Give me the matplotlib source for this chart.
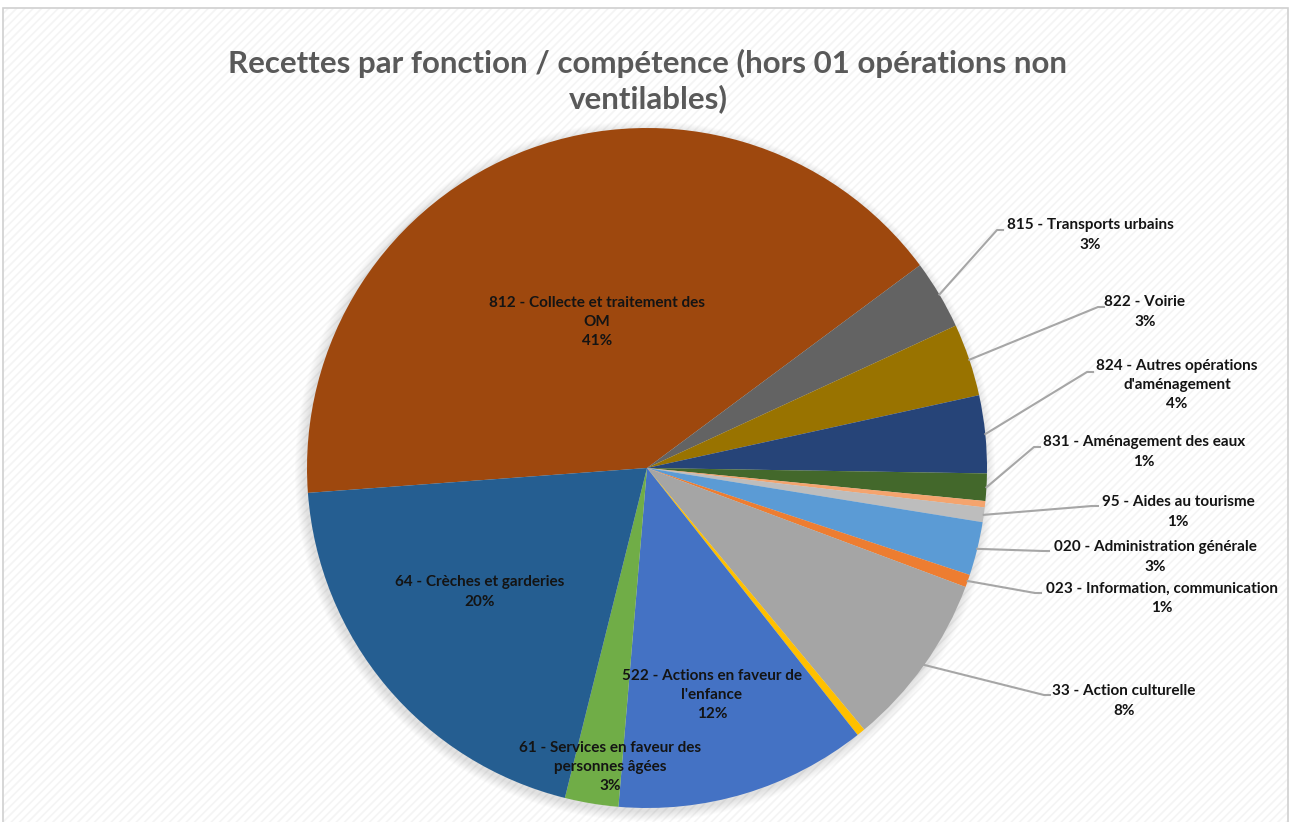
import matplotlib.pyplot as plt
import numpy as np
from matplotlib.patches import Rectangle, Circle

# slices listed clockwise, starting with 812
labels = ["812 - Collecte et traitement des\nOM", "815 - Transports urbains", "822 - Voirie",
          "824 - Autres opérations\nd'aménagement", "831 - Aménagement des eaux", "",
          "95 - Aides au tourisme", "020 - Administration générale",
          "023 - Information, communication", "33 - Action culturelle", "",
          "522 - Actions en faveur de\nl'enfance", "61 - Services en faveur des\npersonnes âgées",
          "64 - Crèches et garderies"]
shares = [41.1, 3.3, 3.45, 3.7, 1.3, 0.3, 0.7, 2.55, 0.6, 8.3, 0.4, 12.0, 2.55, 20.0]
colors = ["#9E480E", "#636363", "#997300", "#264478", "#43682B", "#F4A46E", "#BDBDBD",
          "#5B9BD5", "#ED7D31", "#A5A5A5", "#FFC000", "#4472C4", "#70AD47", "#255E91"]

# label layout (pixel coords, y from top): text block centre, leader end
inside = {0: (597, 322), 11: (712, 695), 12: (610, 767), 13: (480, 592)}
outside = {1: (1090, 235, 1003, 230), 2: (1145, 312, 1104, 307), 3: (1177, 385, 1093, 372),
           4: (1144, 452, 1040, 447), 6: (1178, 512, 1098, 506), 7: (1155, 557, 1049, 551),
           8: (1162, 598, 1041, 593), 9: (1124, 701, 1050, 695)}

W, H = 1293, 822
fig = plt.figure(figsize=(12.93, 8.22), dpi=100)
ax = fig.add_axes([0, 0, 1, 1])

plt.rcParams["hatch.linewidth"] = 1.2
ax.add_patch(Rectangle((3, -10), 1285, H - 8 + 10, facecolor="white", edgecolor="#F4F4F4",
                       hatch="////", lw=0, zorder=0))
ax.add_patch(Rectangle((3, -10), 1285, H - 8 + 10, facecolor="none", edgecolor="#D0D0D0",
                       lw=1.2, zorder=1))

cx, cy, r = 647, H - 468, 340

# soft shadow
for k in range(10):
    ax.add_patch(Circle((cx - 2, cy - 3), r + 10 - k, facecolor="#000000", alpha=0.012,
                        edgecolor="none", zorder=2))

wedges, _ = ax.pie(shares, colors=colors, startangle=184.2, counterclock=False,
                   center=(cx, cy), radius=r, wedgeprops=dict(linewidth=0),
                   frame=True)
for w in wedges:
    w.set_zorder(3)
ax.set_xlim(0, W)
ax.set_ylim(0, H)
ax.axis("off")

total = sum(shares)
font = "Lato"
for i, w in enumerate(wedges):
    if not labels[i]:
        continue
    pct = f"{round(shares[i] / total * 100)}%"
    txt = labels[i] + "\n" + pct
    if i in inside:
        x, y = inside[i]
    else:
        x, y, ex, ey = outside[i]
        mid = np.deg2rad((w.theta1 + w.theta2) / 2)
        px, py = cx + r * np.cos(mid), cy + r * np.sin(mid)
        ax.plot([px, ex - 6, ex], [py, H - ey, H - ey], color="#A6A6A6", lw=1.5, zorder=4)
    ax.text(x, H - y, txt, ha="center", va="center", fontsize=11, fontweight="bold",
            family=font, color="#141414", linespacing=1.48, zorder=5)

ax.text(648, H - 81, "Recettes par fonction / compétence (hors 01 opérations non\nventilables)",
        ha="center", va="center", fontsize=22.5, fontweight="bold", family=font,
        color="#595959", linespacing=1.28, zorder=5)

fig.savefig("out.png", dpi=100)
